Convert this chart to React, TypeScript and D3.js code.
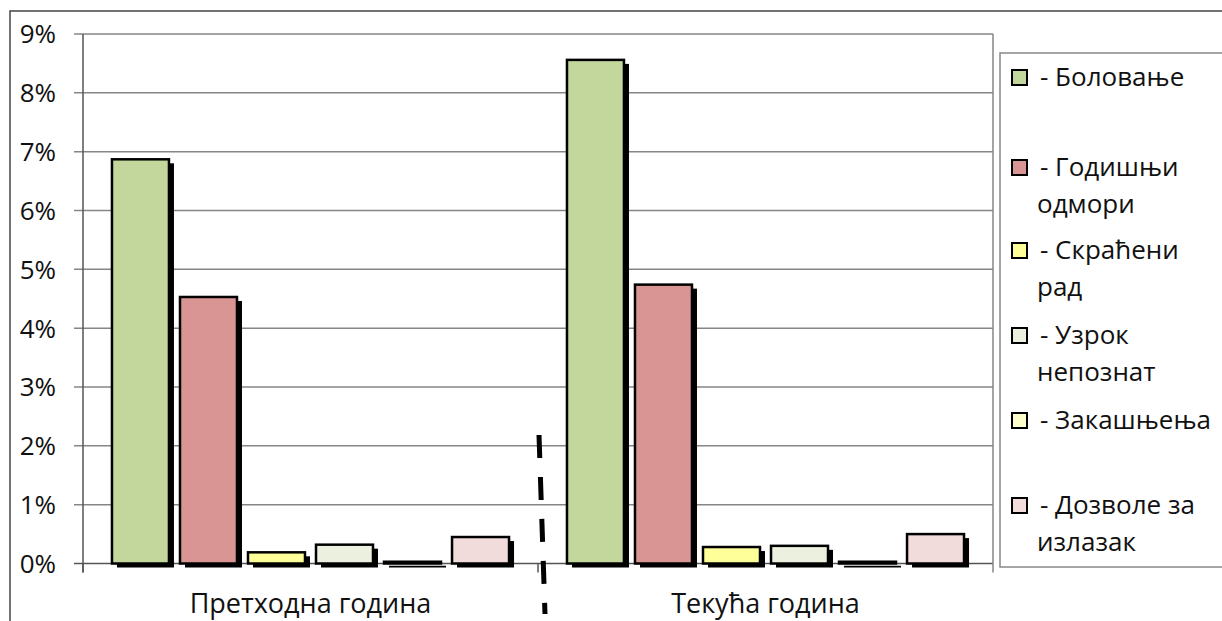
import * as d3 from "d3";

const categories = ["Претходна година", "Текућа година"];
const seriesNames = ["Боловање", "Годишњи одмори", "Скраћени рад", "Узрок непознат", "Закашњења", "Дозволе за излазак"];
const seriesColors = ["#C3D69B", "#D99594", "#FFFF99", "#EBF1DE", "#FFFFCC", "#F2DCDB"];
const previousYear = [6.87, 4.53, 0.19, 0.32, 0.03, 0.45];
const currentYear = [8.56, 4.74, 0.28, 0.3, 0.03, 0.5];
const yTicks = [0, 1, 2, 3, 4, 5, 6, 7, 8, 9];

// legend text lines per entry
const legendLines = [
  ["- Боловање"],
  ["- Годишњи", "одмори"],
  ["- Скраћени", "рад"],
  ["- Узрок", "непознат"],
  ["- Закашњења"],
  ["- Дозволе за", "излазак"],
];
const legendRowY = [77, 167, 250, 335, 420, 505];

const W = 1222;
const H = 621;
const font = "'Open Sans', 'Noto Sans', sans-serif";
const fs = 26;

export default function App() {
  const left = 83, right = 993, top = 34, bottom = 563.5;
  const x0 = d3.scaleBand<string>().domain(categories).range([left, right]);
  const x1 = d3.scaleBand<string>().domain(seriesNames).range([0, x0.bandwidth()]).paddingInner(0.162).paddingOuter(0.426);
  const y = d3.scaleLinear().domain([0, 9]).range([bottom, top]);
  const values = [previousYear, currentYear];

  return (
    <svg width={W} height={H} style={{ position: "fixed", left: 0, top: 0, background: "#fff" }} fontFamily={font}>
      <rect x={10} y={11} width={W + 10} height={H + 10} fill="#fff" stroke="#444" strokeWidth={1.5} />
      {yTicks.map((t) => (
        <g key={t}>
          <line x1={74} x2={right} y1={y(t)} y2={y(t)} stroke={t === 0 ? "#555" : "#868686"} strokeWidth={1.5} />
          <text x={56} y={y(t)} dy="0.36em" textAnchor="end" fontSize={fs} fill="#111">{t}%</text>
        </g>
      ))}
      <line x1={left} x2={left} y1={top} y2={bottom + 9} stroke="#555" strokeWidth={1.5} />
      <line x1={right} x2={right} y1={top} y2={bottom + 9} stroke="#868686" strokeWidth={1.5} />
      {[left, left + x0.bandwidth()].map((xx, i) => (
        <line key={i} x1={xx} x2={xx} y1={bottom} y2={bottom + 9} stroke="#555" strokeWidth={1.5} />
      ))}
      {categories.map((c, ci) => (
        <g key={c}>
          {seriesNames.map((s, si) => {
            const v = values[ci][si];
            const bx = (x0(c) as number) + (x1(s) as number);
            const by = y(v);
            const bh = bottom - by;
            return (
              <g key={s}>
                <rect x={bx + 5} y={by + 4} width={x1.bandwidth()} height={bh} fill="#000" />
                <rect x={bx} y={by} width={x1.bandwidth()} height={bh} fill={seriesColors[si]} stroke="#000" strokeWidth={2.5} />
              </g>
            );
          })}
          <text x={(x0(c) as number) + x0.bandwidth() / 2} y={603} dy="0.36em" textAnchor="middle" fontSize={27} fill="#111">{c}</text>
        </g>
      ))}
      <line x1={539} y1={435} x2={545} y2={614} stroke="#000" strokeWidth={5} strokeDasharray="23 19" />
      <rect x={1000} y={53} width={260} height={514} fill="#fff" stroke="#888" strokeWidth={1.5} />
      {seriesNames.map((s, i) => (
        <g key={s}>
          <rect x={1012} y={legendRowY[i] - 7} width={15} height={15} fill={seriesColors[i]} stroke="#000" strokeWidth={2} />
          {legendLines[i].map((ln, li) => (
            <text key={li} x={li === 0 ? 1040 : 1037} y={legendRowY[i] + li * 37} dy="0.36em" fontSize={fs} fill="#111">{ln}</text>
          ))}
        </g>
      ))}
    </svg>
  );
}
